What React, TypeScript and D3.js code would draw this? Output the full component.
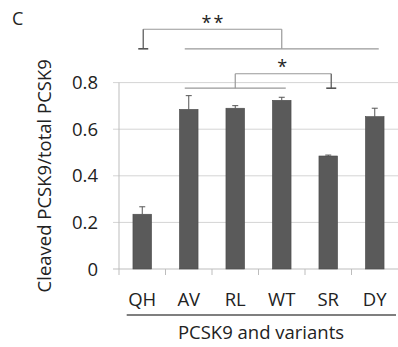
import React from "react";
import * as d3 from "d3";

const categories = ["QH", "AV", "RL", "WT", "SR", "DY"];
const values = [0.235, 0.685, 0.69, 0.724, 0.485, 0.654];
const errors = [0.032, 0.059, 0.011, 0.013, 0.004, 0.036];
const yTicks = [0, 0.2, 0.4, 0.6, 0.8];
const yTickLabels = ["0", "0.2", "0.4", "0.6", "0.8"];

// significance annotations: single category vs group of categories
const brackets = [
  { label: "**", single: "QH", group: ["AV", "DY"], top: 1.029, groupLevel: 0.945, capLevel: 0.945 },
  { label: "*", single: "SR", group: ["AV", "WT"], top: 0.838, groupLevel: 0.776, capLevel: 0.776 },
];

const W = 398;
const H = 347;
const left = 119;
const right = 398;
const baseY = 269;
const topY = 82.6;
const font = "'Open Sans', sans-serif";

export default function App() {
  const x = d3.scaleBand<string>().domain(categories).range([left, right]).paddingInner(0.6).paddingOuter(0.3);
  const xb = d3.scaleBand<string>().domain(categories).range([left, right]);
  const y = d3.scaleLinear().domain([0, 0.8]).range([baseY, topY]);
  const cx = (c: string) => (x(c) as number) + x.bandwidth() / 2;

  return (
    <svg width={W} height={H} style={{ position: "absolute", left: 0, top: 0, background: "#fff" }}>
      <text x={12} y={24.5} fontFamily={font} fontSize={18} fill="#222">C</text>
      {/* gridlines */}
      {yTicks.map((t, i) => (
        <g key={t}>
          {i > 0 && <line x1={113} x2={right} y1={y(t)} y2={y(t)} stroke="#d4d4d4" strokeWidth={1} />}
          <text x={98} y={y(t) + 6.5} textAnchor="end" fontFamily={font} fontSize={18.5} fill="#222">{yTickLabels[i]}</text>
        </g>
      ))}
      {/* axes */}
      <line x1={left} x2={left} y1={topY} y2={baseY + 6} stroke="#bdbdbd" strokeWidth={1} />
      <line x1={113} x2={right} y1={baseY} y2={baseY} stroke="#bdbdbd" strokeWidth={1} />
      {categories.slice(1).map((c) => (
        <line key={c} x1={xb(c) as number} x2={xb(c) as number} y1={baseY} y2={baseY + 6} stroke="#bdbdbd" strokeWidth={1} />
      ))}
      {/* bars */}
      {categories.map((c, i) => (
        <g key={c}>
          <line x1={cx(c)} x2={cx(c)} y1={y(values[i])} y2={y(values[i] + errors[i])} stroke="#555" strokeWidth={1} />
          <line x1={cx(c) - 3} x2={cx(c) + 3} y1={y(values[i] + errors[i])} y2={y(values[i] + errors[i])} stroke="#555" strokeWidth={1} />
          <rect x={x(c)} y={y(values[i])} width={x.bandwidth()} height={baseY - y(values[i])} fill="#5a5a5a" stroke="#4a4a4a" strokeWidth={0.6} />
          <text x={xb(c)! + xb.bandwidth() / 2} y={305.5} textAnchor="middle" fontFamily={font} fontSize={18.5} fill="#222">{c}</text>
        </g>
      ))}
      {/* significance brackets */}
      {brackets.map((b) => {
        const gx1 = cx(b.group[0]) - 4;
        const gx2 = cx(b.group[1]) + 4;
        const gm = (gx1 + gx2) / 2;
        const sx = cx(b.single) + (b.single === "SR" ? 3 : 1);
        const xl = Math.min(sx, gm);
        const xr = Math.max(sx, gm);
        return (
          <g key={b.label}>
            <line x1={gx1} x2={gx2} y1={y(b.groupLevel)} y2={y(b.groupLevel)} stroke="#999" strokeWidth={1.2} />
            <line x1={xl} x2={xr} y1={y(b.top)} y2={y(b.top)} stroke="#999" strokeWidth={1.2} />
            <line x1={gm} x2={gm} y1={y(b.top)} y2={y(b.groupLevel)} stroke="#999" strokeWidth={1.2} />
            <line x1={sx} x2={sx} y1={y(b.top)} y2={y(b.capLevel)} stroke="#6a6a6a" strokeWidth={1.4} />
            <line x1={sx - 5} x2={sx + 5} y1={y(b.capLevel)} y2={y(b.capLevel)} stroke="#555" strokeWidth={1.6} />
            <text x={(xl + xr) / 2 + (b.label === "*" ? 0 : 1)} y={y(b.top) - 0.5} textAnchor="middle" fontFamily={font} fontSize={18} letterSpacing={2} fill="#222">{b.label}</text>
          </g>
        );
      })}
      {/* y title */}
      <text transform={`translate(50.5,${(baseY + topY) / 2}) rotate(-90)`} textAnchor="middle" fontFamily={font} fontSize={18.5} fill="#222">Cleaved PCSK9/total PCSK9</text>
      {/* x title */}
      <line x1={126.7} x2={396} y1={315} y2={315} stroke="#555" strokeWidth={1.5} />
      <text x={261} y={339} textAnchor="middle" fontFamily={font} fontSize={18.5} fill="#222">PCSK9 and variants</text>
    </svg>
  );
}
